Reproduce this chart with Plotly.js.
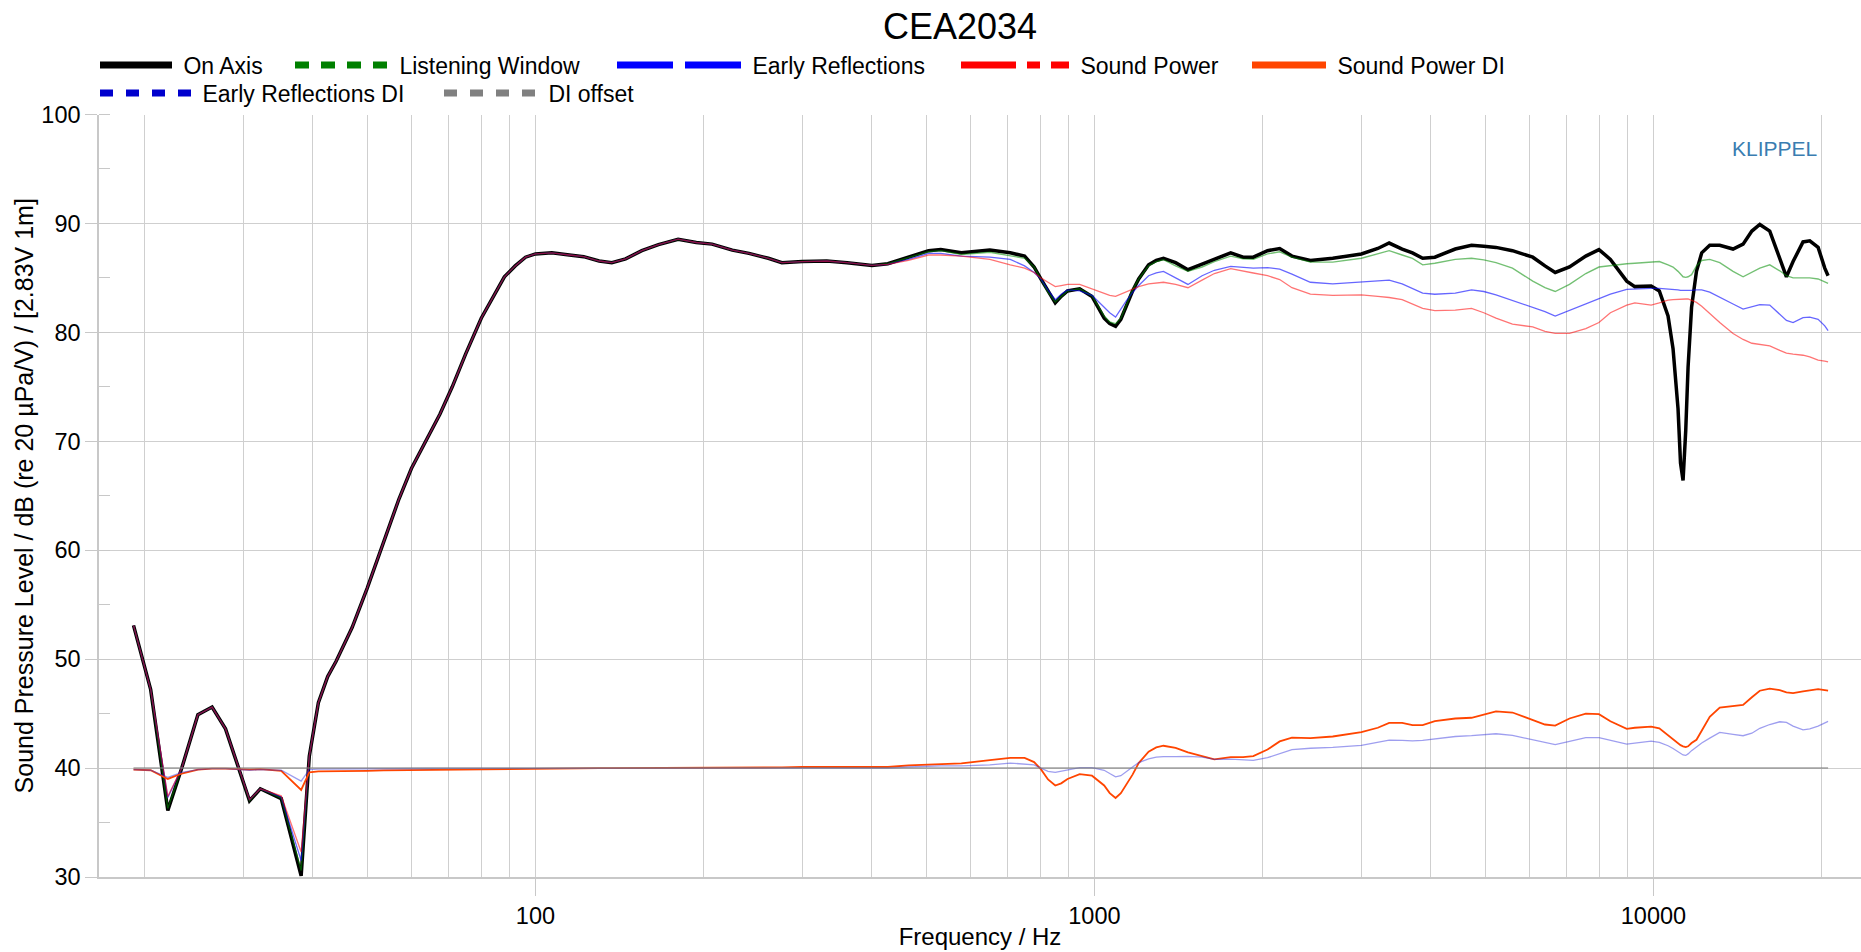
<!DOCTYPE html>
<html>
<head>
<meta charset="utf-8">
<script src="https://cdn.plot.ly/plotly-3.0.1.min.js"></script>
<style>
  html, body { margin: 0; padding: 0; background: #fff; }
  #chart { width: 1861px; height: 952px; }
</style>
</head>
<body>
<div id="chart"></div>
<script>
// Frequency points (Hz) shared by all measured curves
const freq = [
  19.1, 20.5, 22, 23.3, 24.9, 26.4, 27.9, 30.8, 32.2, 35.1,
  38.1, 39.4, 40.9, 42.5, 44, 47, 50, 53.5, 57, 60,
  64, 67.5, 71, 75, 80, 84, 88, 92, 96, 100,
  107, 115, 122, 130, 137, 145, 155, 166, 180, 194,
  207, 225, 241, 261, 276, 300, 332, 361, 400, 427,
  465, 505, 531, 578, 650, 707, 750, 780, 802, 826,
  851, 872, 895, 941, 990, 1041, 1065, 1091, 1115, 1140,
  1170, 1200, 1250, 1290, 1329, 1397, 1470, 1558, 1639, 1753,
  1845, 1924, 2040, 2145, 2256, 2434, 2669, 3003, 3213, 3367,
  3552, 3706, 3865, 4064, 4421, 4727, 4972, 5228, 5595, 6083,
  6397, 6672, 7077, 7568, 7990, 8375, 8959, 9262, 9906, 10245,
  10620, 10841, 11066, 11180, 11297, 11423, 11533, 11700, 11939, 12200,
  12610, 13140, 13880, 14466, 15000, 15498, 16146, 16826, 17295, 17774,
  18518, 19040, 19705, 20253, 20531,
];

const onAxis = [
  53.1, 47.2, 36.1, 40.0, 44.9, 45.6, 43.6, 37.0, 38.1, 37.2,
  30.1, 41.1, 46.0, 48.4, 49.8, 52.9, 56.5, 60.7, 64.7, 67.5,
  70.3, 72.5, 75.0, 78.0, 81.3, 83.3, 85.1, 86.1, 86.9, 87.2,
  87.3, 87.1, 86.95, 86.55, 86.4, 86.75, 87.5, 88.05, 88.55, 88.25,
  88.1, 87.55, 87.25, 86.8, 86.4, 86.5, 86.55, 86.4, 86.15, 86.3,
  86.9, 87.5, 87.6, 87.3, 87.55, 87.3, 87.0, 86.0, 84.9, 83.8,
  82.7, 83.3, 83.8, 84.0, 83.3, 81.3, 80.8, 80.55, 81.2, 82.4,
  83.8, 84.9, 86.2, 86.6, 86.8, 86.4, 85.75, 86.27, 86.7, 87.3,
  86.9, 86.9, 87.5, 87.7, 87.0, 86.6, 86.8, 87.2, 87.7, 88.2,
  87.65, 87.3, 86.8, 86.9, 87.65, 88.0, 87.9, 87.8, 87.5, 86.9,
  86.1, 85.5, 86.0, 87.0, 87.6, 86.7, 84.7, 84.2, 84.25, 83.8,
  81.5, 78.5, 73.0, 68.0, 66.4, 71.0, 76.8, 82.3, 85.6, 87.3,
  88.0, 88.0, 87.65, 88.1, 89.3, 89.9, 89.3, 86.9, 85.1, 86.5,
  88.3, 88.4, 87.8, 85.9, 85.2,
];

const listeningWindow = [
  53.1, 47.2, 36.3, 40.0, 44.9, 45.6, 43.6, 37.0, 38.1, 37.25,
  30.6, 41.1, 46.0, 48.4, 49.8, 52.9, 56.5, 60.7, 64.7, 67.5,
  70.3, 72.5, 75.0, 78.0, 81.3, 83.3, 85.1, 86.1, 86.9, 87.2,
  87.3, 87.1, 86.95, 86.55, 86.4, 86.75, 87.5, 88.05, 88.55, 88.25,
  88.1, 87.55, 87.25, 86.8, 86.4, 86.5, 86.55, 86.4, 86.15, 86.3,
  86.85, 87.4, 87.5, 87.15, 87.35, 87.05, 86.8, 86.0, 84.9, 83.7,
  82.8, 83.25, 83.8, 84.0, 83.35, 81.5, 80.95, 80.8, 81.3, 82.5,
  83.9, 84.9, 86.1, 86.5, 86.67, 86.1, 85.6, 86.0, 86.5, 87.0,
  86.75, 86.7, 87.2, 87.4, 86.9, 86.45, 86.45, 86.8, 87.2, 87.5,
  87.1, 86.8, 86.2, 86.35, 86.7, 86.8, 86.65, 86.4, 85.9, 84.7,
  84.1, 83.75, 84.4, 85.4, 86.0, 86.15, 86.3, 86.35, 86.45, 86.5,
  86.2, 86.0, 85.6, 85.3, 85.1, 85.05, 85.1, 85.3, 86.1, 86.6,
  86.7, 86.4, 85.6, 85.1, 85.55, 85.9, 86.2, 85.65, 85.2, 85.0,
  85.0, 85.0, 84.9, 84.6, 84.5,
];

const earlyReflections = [
  53.1, 47.2, 37.3, 40.0, 44.9, 45.6, 43.6, 37.1, 38.1, 37.35,
  31.5, 41.1, 46.0, 48.4, 49.8, 52.9, 56.5, 60.7, 64.7, 67.5,
  70.3, 72.5, 75.0, 78.0, 81.3, 83.3, 85.1, 86.1, 86.9, 87.2,
  87.3, 87.1, 86.95, 86.55, 86.4, 86.75, 87.5, 88.05, 88.55, 88.25,
  88.1, 87.55, 87.25, 86.8, 86.4, 86.5, 86.55, 86.4, 86.15, 86.25,
  86.7, 87.25, 87.25, 87.0, 86.9, 86.7, 86.1, 85.5, 84.9, 83.9,
  83.0, 83.5, 83.9, 83.8, 83.4, 82.3, 81.8, 81.4, 82.2, 82.9,
  83.65, 84.3, 85.2, 85.45, 85.6, 85.0, 84.4, 85.2, 85.7, 86.05,
  85.95, 85.9, 85.95, 85.8, 85.35, 84.6, 84.45, 84.6, 84.75, 84.8,
  84.45, 84.0, 83.6, 83.5, 83.6, 83.9, 83.75, 83.45, 82.95, 82.3,
  81.9, 81.5, 82.0, 82.6, 83.1, 83.5, 83.95, 84.0, 84.04, 84.04,
  84.0, 83.98, 83.9, 83.85, 83.85, 83.8, 83.8, 83.85, 83.9, 83.9,
  83.7, 83.2, 82.6, 82.14, 82.35, 82.55, 82.5, 81.7, 81.1, 80.9,
  81.35, 81.4, 81.2, 80.6, 80.15,
];

const soundPower = [
  53.1, 47.2, 37.4, 40.0, 44.9, 45.6, 43.6, 37.1, 38.1, 37.45,
  32.3, 41.1, 46.0, 48.4, 49.8, 52.9, 56.5, 60.7, 64.7, 67.5,
  70.3, 72.5, 75.0, 78.0, 81.3, 83.3, 85.1, 86.1, 86.9, 87.2,
  87.3, 87.1, 86.95, 86.55, 86.4, 86.75, 87.5, 88.05, 88.55, 88.25,
  88.1, 87.55, 87.25, 86.8, 86.4, 86.5, 86.55, 86.4, 86.15, 86.25,
  86.6, 87.1, 87.1, 87.0, 86.7, 86.2, 85.9, 85.5, 85.0, 84.6,
  84.2, 84.3, 84.4, 84.4, 84.0, 83.6, 83.4, 83.3, 83.5, 83.75,
  84.0, 84.2, 84.45, 84.55, 84.6, 84.4, 84.1, 84.8, 85.4, 85.85,
  85.6, 85.45, 85.2, 84.85, 84.1, 83.5, 83.4, 83.45, 83.3, 83.2,
  83.0, 82.6, 82.2, 82.0, 82.05, 82.2, 81.8, 81.3, 80.75, 80.5,
  80.1, 79.9, 79.9, 80.35, 80.9, 81.8, 82.5, 82.7, 82.5, 82.7,
  82.95, 83.0, 83.05, 83.06, 83.06, 83.06, 83.06, 82.95, 82.75, 82.4,
  81.7, 80.9, 79.9, 79.35, 79.0, 78.9, 78.75, 78.35, 78.1, 78.0,
  77.9, 77.75, 77.45, 77.35, 77.3,
];

const soundPowerDI = [
  39.85, 39.8, 39.0, 39.5, 39.85, 39.95, 39.95, 39.85, 39.9, 39.75,
  38.0, 39.6, 39.7, 39.7, 39.75, 39.75, 39.75, 39.78, 39.8, 39.8,
  39.82, 39.84, 39.85, 39.88, 39.9, 39.92, 39.94, 39.95, 39.96, 39.97,
  40.0, 40.0, 40.0, 40.0, 40.0, 40.0, 40.0, 40.0, 40.0, 40.0,
  40.0, 40.0, 40.0, 40.03, 40.06, 40.1, 40.1, 40.1, 40.06, 40.1,
  40.25, 40.34, 40.37, 40.43, 40.72, 40.93, 40.93, 40.55, 39.9, 38.95,
  38.4, 38.6, 39.0, 39.45, 39.3, 38.4, 37.7, 37.25, 37.7, 38.47,
  39.4, 40.46, 41.5, 41.9, 42.05, 41.85, 41.45, 41.1, 40.8, 41.0,
  41.0, 41.1, 41.7, 42.45, 42.8, 42.75, 42.9, 43.3, 43.7, 44.15,
  44.15, 43.95, 43.95, 44.3, 44.55, 44.62, 44.9, 45.2, 45.1, 44.4,
  44.0, 43.9, 44.55, 45.0, 44.95, 44.3, 43.6, 43.7, 43.8, 43.65,
  43.0, 42.7, 42.3, 42.1, 42.0, 41.93, 42.0, 42.3, 42.6, 43.45,
  44.7, 45.55, 45.7, 45.8, 46.5, 47.1, 47.3, 47.15, 46.95, 46.88,
  47.05, 47.15, 47.25, 47.15, 47.1,
];

const earlyReflectionsDI = [
  39.85, 39.8, 39.15, 39.6, 39.85, 39.95, 39.95, 39.8, 39.85, 39.8,
  38.8, 39.85, 39.9, 39.9, 39.92, 39.93, 39.94, 39.95, 39.95, 39.96,
  39.96, 39.97, 39.97, 39.97, 39.98, 39.98, 39.98, 39.98, 39.98, 39.98,
  40.0, 40.0, 40.0, 40.0, 40.0, 40.0, 40.0, 40.0, 40.0, 40.0,
  40.0, 40.0, 40.0, 40.0, 40.0, 40.02, 40.02, 40.02, 40.0, 40.0,
  40.1, 40.2, 40.2, 40.2, 40.3, 40.46, 40.4, 40.3, 40.0, 39.7,
  39.6, 39.7, 39.85, 40.05, 40.05, 39.8, 39.5, 39.2, 39.3, 39.7,
  40.1, 40.5, 40.85, 41.0, 41.05, 41.05, 41.07, 41.0, 40.8, 40.83,
  40.75, 40.7, 40.95, 41.35, 41.7, 41.82, 41.9, 42.08, 42.35, 42.57,
  42.55, 42.5, 42.55, 42.7, 42.9, 42.97, 43.05, 43.15, 43.0, 42.6,
  42.3, 42.15, 42.45, 42.8, 42.8, 42.55, 42.2, 42.3, 42.48, 42.35,
  42.05, 41.8, 41.5, 41.3, 41.2, 41.16, 41.3, 41.6, 41.95, 42.3,
  42.75, 43.27, 43.1, 42.97, 43.2, 43.65, 44.0, 44.25, 44.2, 43.85,
  43.5, 43.6, 43.85, 44.1, 44.28,
];

const diOffsetFreq = [19.1, 20531];
const diOffset = [40, 40];

const xTickVals = [100, 1000, 10000];
const xGridVals = [
  20, 30, 40, 50, 60, 70, 80, 90,
  200, 300, 400, 500, 600, 700, 800, 900,
  2000, 3000, 4000, 5000, 6000, 7000, 8000, 9000,
  20000,
];

const W = 1861;
const H = 952;
const FONT = '"Liberation Sans", Arial, Helvetica, sans-serif';

// plotted curves (thin lines in the plot, thick symbols in the legend below)
const curves = [
  { x: freq, y: onAxis, color: "#000000", width: 3.5 },
  { x: freq, y: listeningWindow, color: "rgba(0,140,0,0.55)", width: 1.4 },
  { x: freq, y: earlyReflections, color: "rgba(0,0,255,0.6)", width: 1.3 },
  { x: freq, y: soundPower, color: "rgba(255,0,0,0.55)", width: 1.3 },
  { x: freq, y: soundPowerDI, color: "#ff4500", width: 1.8 },
  { x: freq, y: earlyReflectionsDI, color: "rgba(40,40,220,0.45)", width: 1.3 },
  { x: diOffsetFreq, y: diOffset, color: "rgba(128,128,128,0.55)", width: 2 },
];

const traces = curves.map((c) => ({
  x: c.x,
  y: c.y,
  type: "scatter",
  mode: "lines",
  showlegend: false,
  hoverinfo: "skip",
  line: { color: c.color, width: c.width },
}));

// one legend box per entry so each symbol keeps its own length
// left = where the symbol starts (px), w = symbol length, top = row centre
const legendItems = [
  { name: "On Axis", color: "#000000", dash: "solid", w: 72, left: 100, top: 65 },
  { name: "Listening Window", color: "#008000", dash: "14px,12px", w: 93, left: 295, top: 65 },
  { name: "Early Reflections", color: "#0000ff", dash: "56px,12px", w: 124, left: 617, top: 65 },
  { name: "Sound Power", color: "#ff0000", dash: "55px,11px,13px,11px", w: 108, left: 961, top: 65 },
  { name: "Sound Power DI", color: "#ff4500", dash: "solid", w: 74, left: 1252, top: 65 },
  { name: "Early Reflections DI", color: "#0000cd", dash: "13px,13px", w: 91, left: 100, top: 93 },
  { name: "DI offset", color: "#808080", dash: "13px,13px", w: 93, left: 444, top: 93 },
];

const layout = {
  width: W,
  height: H,
  paper_bgcolor: "#ffffff",
  plot_bgcolor: "#ffffff",
  font: { family: FONT, color: "#000000", size: 23 },
  showlegend: true,
  title: {
    text: "CEA2034",
    font: { size: 36, family: FONT, color: "#000000" },
    xref: "container",
    x: 960 / W,
    xanchor: "center",
    yref: "container",
    y: 1 - 26 / H,
    yanchor: "middle",
  },
  margin: { l: 99, r: 0, t: 114, b: 75, pad: 0 },
  xaxis: {
    type: "log",
    range: [1.2193, 4.3713],
    tickmode: "array",
    tickvals: xTickVals,
    ticktext: xTickVals.map(String),
    ticks: "outside",
    ticklen: 17,
    tickcolor: "#c8c8c8",
    tickfont: { size: 23.5 },
    showgrid: true,
    gridcolor: "#cfcfcf",
    gridwidth: 1.2,
    showline: true,
    linecolor: "#c8c8c8",
    linewidth: 1.5,
    zeroline: false,
    minor: {
      tickmode: "array",
      tickvals: xGridVals,
      showgrid: true,
      gridcolor: "#cfcfcf",
      gridwidth: 1.2,
      ticks: "",
    },
    title: { text: "Frequency / Hz", font: { size: 24 }, standoff: 0 },
    automargin: false,
  },
  yaxis: {
    range: [30, 100],
    dtick: 10,
    tick0: 0,
    ticks: "outside",
    ticklen: 12,
    tickcolor: "#c8c8c8",
    tickfont: { size: 23.5 },
    showgrid: true,
    gridcolor: "#cfcfcf",
    gridwidth: 1.2,
    showline: true,
    linecolor: "#c8c8c8",
    linewidth: 1.5,
    zeroline: false,
    minor: { dtick: 5, tick0: 0, ticks: "inside", ticklen: 11, tickcolor: "#c8c8c8", showgrid: false },
    title: { text: "Sound Pressure Level / dB (re 20 µPa/V) / [2.83V 1m]", font: { size: 25 }, standoff: 1 },
    automargin: false,
  },
  annotations: [
    {
      text: "KLIPPEL",
      xref: "paper",
      yref: "paper",
      x: (1774 - 99) / 1762,
      y: (877.5 - 148) / 763.5,
      xanchor: "center",
      yanchor: "middle",
      showarrow: false,
      font: { size: 21, color: "#3a7db1", family: FONT },
    },
  ],
};

legendItems.forEach((item, i) => {
  const key = i === 0 ? "legend" : "legend" + (i + 1);
  layout[key] = {
    orientation: "h",
    xref: "container",
    x: (item.left - 5) / W,
    xanchor: "left",
    yref: "container",
    y: 1 - item.top / H,
    yanchor: "middle",
    itemwidth: item.w,
    bgcolor: "rgba(0,0,0,0)",
    borderwidth: 0,
    font: { size: 23, family: FONT, color: "#000000" },
  };
  traces.push({
    x: [null],
    y: [null],
    type: "scatter",
    mode: "lines",
    name: "\u00a0" + item.name,
    legend: key,
    hoverinfo: "skip",
    line: { color: item.color, width: 7, dash: item.dash },
  });
});

Plotly.newPlot("chart", traces, layout, { displayModeBar: false, responsive: false });
</script>
</body>
</html>
